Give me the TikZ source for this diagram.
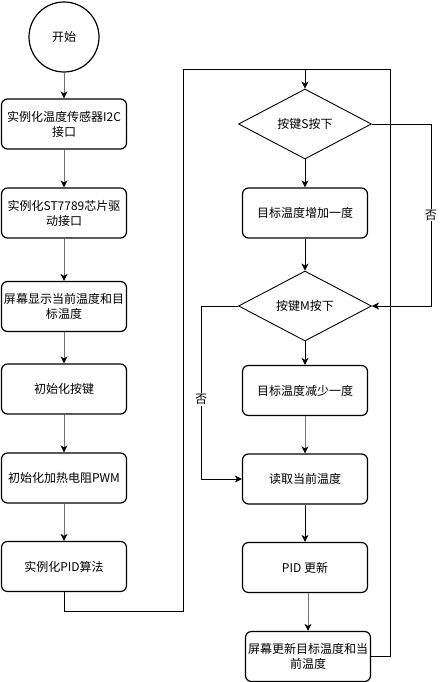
\documentclass[tikz,border=0pt]{standalone}
\usepackage{fontspec}
\setmainfont{Noto Sans CJK SC}
\usetikzlibrary{arrows.meta,shapes.geometric}

\begin{document}
\begin{tikzpicture}[
  x=1pt, y=-1pt,
  font=\fontsize{12}{15}\selectfont,
  box/.style={draw, rounded corners=6pt, line width=1.2pt, minimum width=125pt,
              minimum height=50pt, inner sep=2pt, align=center},
  cond/.style={draw, diamond, aspect=1.9, line width=0.9pt, minimum width=133pt,
               minimum height=70pt, inner sep=0pt},
  arr/.style={-{Stealth[length=7pt, width=7pt, inset=2pt, color=black]}, line width=0.8pt},
  grey/.style={draw=black!55},
  no/.style={fill=white, inner sep=1pt}]
  \useasboundingbox (0,0) rectangle (440,682);
  % init column
  \node[draw, circle, line width=1.2pt, minimum size=70pt] (start) at (64,37) {开始};
  \node[box] (i2c) at (64,124) {实例化温度传感器I2C\\接口};
  \node[box] (lcd) at (64,213) {实例化ST7789芯片驱\\动接口};
  \node[box] (disp) at (64,306.5) {屏幕显示当前温度和目\\标温度};
  \node[box] (keys) at (64,389) {初始化按键};
  \node[box] (pwm) at (64,478) {初始化加热电阻PWM};
  \node[box] (pidinit) at (64,566.5) {实例化PID算法};
  % main loop
  \node[cond] (keyS) at (305,124) {按键S按下};
  \node[box] (inc) at (305,213) {目标温度增加一度};
  \node[cond] (keyM) at (305,306) {按键M按下};
  \node[box] (dec) at (305,390.5) {目标温度减少一度};
  \node[box] (read) at (305,479) {读取当前温度};
  \node[box] (pid) at (305,567.5) {PID 更新};
  \node[box] (show) at (308,656.5) {屏幕更新目标温度和当\\前温度};
  \coordinate (loopl) at (183,611);
  \coordinate (top) at (305,69);
  \coordinate (loopr) at (390,69);
  \draw[arr, grey] (start) -- (i2c);
  \draw[arr, grey] (i2c) -- (lcd);
  \draw[arr, grey] (lcd) -- (disp);
  \draw[arr, grey] (disp) -- (keys);
  \draw[arr, grey] (keys) -- (pwm);
  \draw[arr, grey] (pwm) -- (pidinit);
  \draw[arr] (pidinit.south) |- (loopl) |- (top) -- (keyS.north);
  \draw[line width=0.8pt] (show.east) -| (loopr) -- (top);
  \draw[arr] (keyS) -- (inc);
  \draw[arr] (inc) -- (keyM);
  \draw[arr] (keyS.east) -- ++(59,0) |- (keyM.east) node[pos=0.25, no] {否};
  \draw[arr] (keyM) -- (dec);
  \draw[arr] (keyM.west) -- ++(-37,0) |- (read.west) node[pos=0.27, no] {否};
  \draw[arr, grey] (dec) -- (read);
  \draw[arr] (read) -- (pid);
  \draw[arr, grey] (show.north |- pid.south) -- (show.north);
\end{tikzpicture}
\end{document}
